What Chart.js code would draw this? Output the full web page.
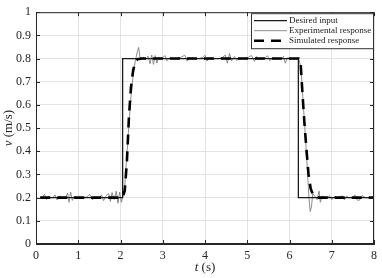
<!DOCTYPE html>
<html>
<head>
<meta charset="utf-8">
<script src="https://cdn.jsdelivr.net/npm/chart.js@4.4.1/dist/chart.umd.min.js"></script>
<style>
  html, body { margin:0; padding:0; background:#fff; }
  #chart { display:block; }
</style>
</head>
<body>
<canvas id="chart" width="382" height="278"></canvas>
<script>
// Desired step input
const desiredT = [0.1, 2.05, 2.05, 6.21, 6.21, 8.0];
const desiredV = [0.2, 0.2, 0.8, 0.8, 0.2, 0.2];

const expT = [0.10,0.15,0.20,0.25,0.30,0.35,0.40,0.45,0.50,0.55,0.60,0.65,0.70,0.75,0.78,0.82,0.86,0.90,1.00,1.10,
  1.20,1.27,1.33,1.40,1.50,1.55,1.60,1.65,1.72,1.76,1.80,1.85,1.90,1.94,1.98,2.02,2.06,
  2.10,2.15,2.20,2.25,2.30,2.35,2.40,2.43,2.46,2.50,2.55,2.60,2.65,2.70,2.74,2.78,2.82,2.86,2.90,2.95,
  3.00,3.05,3.10,3.15,3.25,3.35,3.45,3.52,3.58,3.65,3.75,3.85,3.95,4.00,4.05,4.10,4.20,4.30,4.40,4.48,
  4.53,4.58,4.63,4.70,4.75,4.80,4.90,5.00,5.10,5.17,5.22,5.28,5.40,5.48,5.53,5.60,5.70,5.80,5.86,5.90,
  5.95,6.05,6.15,6.22,6.27,6.32,6.37,6.42,6.46,6.49,6.52,6.55,6.60,6.65,6.70,6.73,6.77,6.85,6.95,7.00,
  7.05,7.15,7.25,7.30,7.35,7.40,7.50,7.55,7.60,7.65,7.72,7.80,7.90,8.00];
const expV = [0.200,0.203,0.214,0.192,0.206,0.200,0.200,0.212,0.190,0.207,0.200,0.201,0.200,0.220,0.180,0.224,0.188,0.205,0.200,0.200,
  0.203,0.214,0.191,0.202,0.200,0.212,0.187,0.205,0.218,0.184,0.222,0.192,0.228,0.176,0.224,0.180,0.207,
  0.25,0.38,0.52,0.64,0.73,0.79,0.83,0.848,0.805,0.800,0.805,0.796,0.810,0.778,0.815,0.775,0.813,0.780,0.806,0.800,
  0.803,0.813,0.790,0.802,0.800,0.800,0.807,0.815,0.789,0.802,0.800,0.800,0.805,0.814,0.789,0.804,0.800,0.800,0.803,0.815,
  0.780,0.822,0.790,0.809,0.792,0.800,0.800,0.803,0.813,0.788,0.809,0.798,0.800,0.812,0.791,0.802,0.800,0.800,0.809,0.780,
  0.803,0.800,0.800,0.800,0.76,0.62,0.48,0.33,0.20,0.14,0.16,0.218,0.206,0.192,0.228,0.180,0.207,0.200,0.208,0.191,
  0.204,0.200,0.208,0.190,0.207,0.200,0.200,0.211,0.190,0.188,0.209,0.200,0.200,0.200];

// Simulated model response
const simT = [0.1, 2.05, 2.10, 2.15, 2.20, 2.25, 2.30, 2.35, 2.40, 2.50, 6.22, 6.26, 6.30, 6.35, 6.40, 6.45, 6.50, 6.55, 6.60, 6.70, 8.0];
const simV = [0.2, 0.2, 0.23, 0.35, 0.55, 0.68, 0.75, 0.785, 0.797, 0.8, 0.8, 0.79, 0.67, 0.53, 0.41, 0.30, 0.24, 0.215, 0.205, 0.2, 0.2];

const xTicks = [0, 1, 2, 3, 4, 5, 6, 7, 8];
const yTicks = [0, 0.1, 0.2, 0.3, 0.4, 0.5, 0.6, 0.7, 0.8, 0.9, 1];
const legendLabels = ['Desired input', 'Experimental response', 'Simulated response'];

const SERIF = '"Liberation Serif", "DejaVu Serif", serif';
const pts = (t, v) => t.map((x, i) => ({x: x, y: v[i]}));

// box round the axes, ticks pointing inwards, axis titles and legend
const framePlugin = {
  id: 'frame',
  afterDatasetsDraw(chart) {
    const {ctx, chartArea: a, scales} = chart;
    ctx.save();
    ctx.strokeStyle = '#262626';
    ctx.lineWidth = 1;
    ctx.strokeRect(a.left + 0.5, a.top + 0.5, a.right - a.left - 1, a.bottom - a.top - 1);
    ctx.beginPath();
    xTicks.forEach(t => {
      const px = Math.round(scales.x.getPixelForValue(t)) + 0.5;
      ctx.moveTo(px, a.bottom); ctx.lineTo(px, a.bottom - 4);
      ctx.moveTo(px, a.top); ctx.lineTo(px, a.top + 4);
    });
    yTicks.forEach(t => {
      const py = Math.round(scales.y.getPixelForValue(t)) + 0.5;
      ctx.moveTo(a.left, py); ctx.lineTo(a.left + 4, py);
      ctx.moveTo(a.right, py); ctx.lineTo(a.right - 4, py);
    });
    ctx.stroke();

    // axis titles
    ctx.fillStyle = '#262626';
    ctx.textBaseline = 'middle';
    const xt1 = 't', xt2 = ' (s)';
    ctx.font = 'italic 13px ' + SERIF;
    const w1 = ctx.measureText(xt1).width;
    ctx.font = '13px ' + SERIF;
    const w2 = ctx.measureText(xt2).width;
    let cx = (a.left + a.right) / 2 - (w1 + w2) / 2;
    ctx.textAlign = 'left';
    ctx.font = 'italic 13px ' + SERIF;
    ctx.fillText(xt1, cx, 268);
    ctx.font = '13px ' + SERIF;
    ctx.fillText(xt2, cx + w1, 268);

    ctx.save();
    ctx.translate(9, (a.top + a.bottom) / 2);
    ctx.rotate(-Math.PI / 2);
    const yt1 = 'v', yt2 = ' (m/s)';
    ctx.font = 'italic 13px ' + SERIF;
    const v1 = ctx.measureText(yt1).width;
    ctx.font = '13px ' + SERIF;
    const v2 = ctx.measureText(yt2).width;
    cx = -(v1 + v2) / 2;
    ctx.font = 'italic 13px ' + SERIF;
    ctx.fillText(yt1, cx, 0);
    ctx.font = '13px ' + SERIF;
    ctx.fillText(yt2, cx + v1, 0);
    ctx.restore();

    // legend
    const lx = 251, ly = a.top + 1, lw = a.right - 1 - lx, lh = 35;
    ctx.fillStyle = '#fff';
    ctx.fillRect(lx, ly, lw, lh);
    ctx.strokeStyle = '#333';
    ctx.lineWidth = 1;
    ctx.strokeRect(lx + 0.5, ly + 0.5, lw, lh);
    ctx.font = '9px ' + SERIF;
    ctx.textAlign = 'left';
    chart.data.datasets.forEach((ds, i) => {
      const idx = legendLabels.indexOf(ds.label);
      const y = ly + 7.5 + idx * 10;
      ctx.save();
      ctx.strokeStyle = ds.borderColor;
      ctx.lineWidth = ds.borderWidth;
      ctx.setLineDash(ds.borderDash || []);
      ctx.beginPath();
      ctx.moveTo(lx + 3, y); ctx.lineTo(lx + 36, y);
      ctx.stroke();
      ctx.restore();
      ctx.fillStyle = '#222';
      ctx.fillText(ds.label, lx + 38, y);
    });
    ctx.restore();
  }
};

new Chart(document.getElementById('chart').getContext('2d'), {
  type: 'line',
  data: {
    datasets: [
      { label: legendLabels[2], data: pts(simT, simV), borderColor: '#000', borderWidth: 2.6,
        borderDash: [10, 7], pointRadius: 0, fill: false, order: 0 },
      { label: legendLabels[0], data: pts(desiredT, desiredV), borderColor: '#1a1a1a', borderWidth: 1.3,
        pointRadius: 0, fill: false, order: 1 },
      { label: legendLabels[1], data: pts(expT, expV), borderColor: '#808080', borderWidth: 0.9,
        pointRadius: 0, fill: false, order: 2 }
    ]
  },
  options: {
    responsive: false,
    animation: false,
    devicePixelRatio: 1,
    layout: { padding: { top: 7, right: 5, left: 0, bottom: 0 } },
    plugins: { legend: { display: false }, tooltip: { enabled: false } },
    scales: {
      x: {
        type: 'linear', min: 0, max: 8,
        afterBuildTicks: s => { s.ticks = xTicks.map(v => ({value: v})); },
        afterFit: s => { s.height = 34; },
        grid: { color: '#e3e3e3', drawTicks: false },
        border: { color: '#262626' },
        ticks: { padding: 5, color: '#262626', font: { family: SERIF, size: 12 }, maxRotation: 0,
          callback: v => String(v) }
      },
      y: {
        type: 'linear', min: 0, max: 1,
        afterBuildTicks: s => { s.ticks = yTicks.map(v => ({value: v})); },
        afterFit: s => { s.width = 36; },
        grid: { color: '#e3e3e3', drawTicks: false },
        border: { color: '#262626' },
        ticks: { padding: 5, color: '#262626', font: { family: SERIF, size: 12 },
          callback: v => String(Math.round(v * 10) / 10) }
      }
    }
  },
  plugins: [framePlugin]
});
</script>
</body>
</html>
